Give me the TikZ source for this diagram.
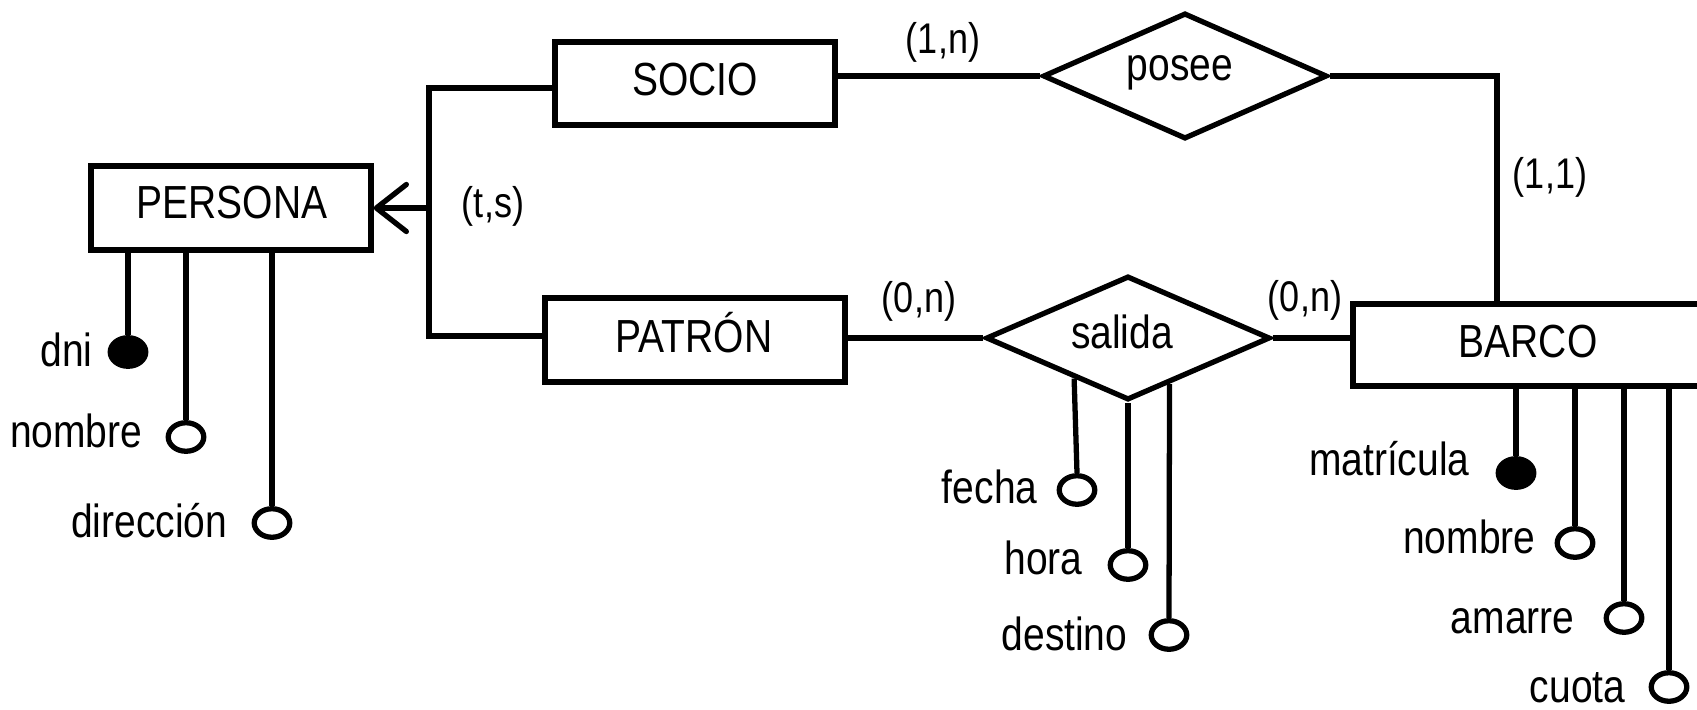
\documentclass[tikz,border=0pt]{standalone}
\usepackage{fontspec}
\setmainfont[FakeStretch=0.84]{Liberation Sans}
\usetikzlibrary{shapes.geometric,arrows.meta}
\begin{document}
\begin{tikzpicture}[x=0.01cm,y=-0.01cm,line width=1.5pt,
  ent/.style={draw,rectangle,inner sep=0},
  rel/.style={draw,diamond,inner sep=0},
  txt/.style={font=\fontsize{13.2pt}{15pt}\selectfont,inner sep=0,anchor=base},
  atxt/.style={txt,anchor=base east},
  card/.style={font=\fontsize{12.2pt}{14pt}\selectfont,inner sep=0,anchor=base},
  attr/.style={draw,ellipse,fill=white,minimum width=0.355cm,minimum height=0.285cm,inner sep=0},
  keyattr/.style={attr,fill=black}]
\useasboundingbox (0,0) rectangle (1697,709);
\clip (0,0) rectangle (1697,709);

% entities
\node[ent,minimum width=2.80cm,minimum height=0.84cm] (persona) at (231,208) {};
\node[ent,minimum width=2.80cm,minimum height=0.83cm] (socio) at (695,83.5) {};
\node[ent,minimum width=3.00cm,minimum height=0.84cm] (patron) at (695,340) {};
\node[ent,minimum width=3.52cm,minimum height=0.82cm] (barco) at (1529,345) {};
% relationships
\node[rel,minimum width=2.84cm,minimum height=1.26cm] (posee) at (1185,76) {};
\node[rel,minimum width=2.84cm,minimum height=1.24cm] (salida) at (1128,338) {};

% texts
\node[txt] (persona-t) at (232,218) {PERSONA};
\node[txt] (socio-t) at (695,95) {SOCIO};
\node[txt] (patron-t) at (694,352) {PATRÓN};
\node[txt] (barco-t) at (1528,357) {BARCO};
\node[txt] (posee-t) at (1180,80) {posee};
\node[txt] (salida-t) at (1122,348) {salida};

% cardinalities
\node[card] (c1) at (943,54) {(1,n)};
\node[card] (c2) at (919,312) {(0,n)};
\node[card] (c3) at (1305,311) {(0,n)};
\node[card] (c4) at (1550,188) {(1,1)};
\node[card] (c5) at (493,217) {(t,s)};

% generalisation
\coordinate (jtop) at (429,88);
\coordinate (jmid) at (429,208);
\coordinate (jbot) at (429,336);
\draw (jtop -| socio.west) -- (jtop) -- (jbot) -- (jbot -| patron.west);
\draw[-{Straight Barb[length=3mm,width=4.7mm,round]}] (jmid) -- (persona.east);

% relationship connectors
\coordinate (k) at (1497,76);
\draw (posee.west) -- (posee.west -| socio.east);
\draw (posee.east) -- (k) -- (k |- barco.north);
\draw (salida.west) -- (salida.west -| patron.east);
\draw (salida.east) -- (salida.east -| barco.west);

% PERSONA attributes
\node[keyattr] (a1) at (128,352) {};
\node[attr] (a2) at (186,437) {};
\node[attr] (a3) at (272,523) {};
\draw (a1.north) -- (a1 |- persona.south);
\draw (a2.north) -- (a2 |- persona.south);
\draw (a3.north) -- (a3 |- persona.south);
\node[atxt] (a1-t) at (95,366) {dni};
\node[atxt] (a2-t) at (145,447) {nombre};
\node[atxt] (a3-t) at (230,537) {dirección};

% salida attributes
\node[attr] (s1) at (1077,490) {};
\node[attr] (s2) at (salida.south |- 0,565) {};
\node[attr] (s3) at (1169,635) {};
\draw (s1.north) -- (salida.217.9);
\draw (s2.north) -- (salida.south);
\draw (s3.north) -- (salida.312.9);
\node[atxt] (s1-t) at (1040,503) {fecha};
\node[atxt] (s2-t) at (1085,574) {hora};
\node[atxt] (s3-t) at (1130,650) {destino};

% BARCO attributes
\node[keyattr] (b1) at (1516,473) {};
\node[attr] (b2) at (1575,543) {};
\node[attr] (b3) at (1624,618) {};
\node[attr] (b4) at (1669,687) {};
\draw (b1.north) -- (b1 |- barco.south);
\draw (b2.north) -- (b2 |- barco.south);
\draw (b3.north) -- (b3 |- barco.south);
\draw (b4.north) -- (b4 |- barco.south);
\node[atxt] (b1-t) at (1472,475) {matrícula};
\node[atxt] (b2-t) at (1538,553) {nombre};
\node[atxt] (b3-t) at (1577,633) {amarre};
\node[atxt] (b4-t) at (1628,702) {cuota};
\end{tikzpicture}
\end{document}
